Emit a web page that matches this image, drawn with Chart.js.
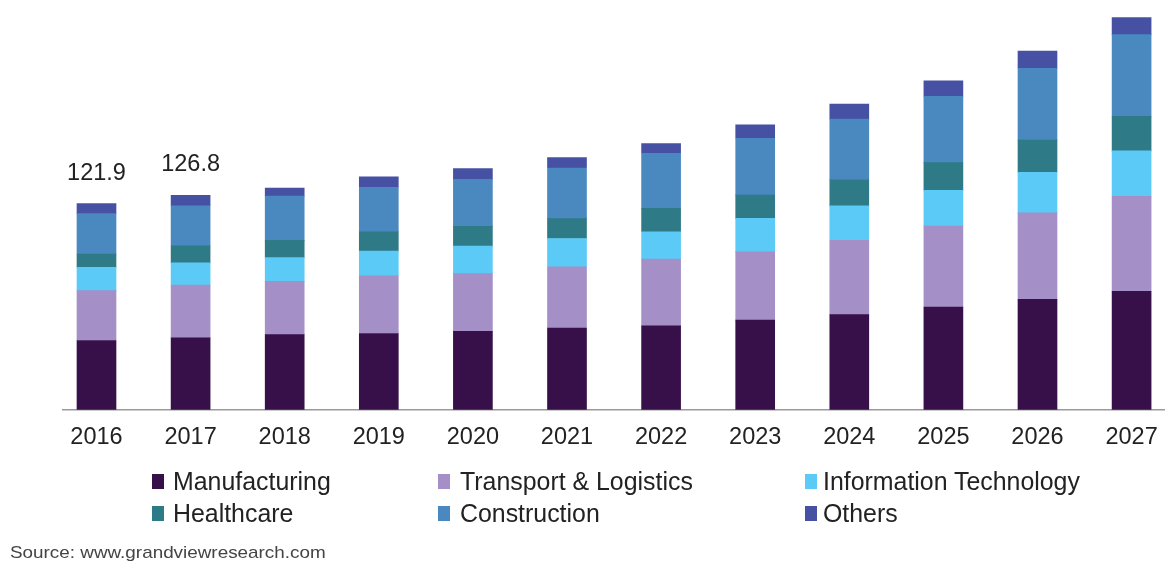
<!DOCTYPE html>
<html>
<head>
<meta charset="utf-8">
<script src="https://cdn.jsdelivr.net/npm/chart.js@4.4.1/dist/chart.umd.min.js"></script>
<style>
  html, body { margin: 0; padding: 0; background: #ffffff; overflow: hidden; }
  #wrap { position: relative; width: 1165px; height: 562px; }
  #c { position: absolute; left: 0; top: 0; }
  .lg { position: absolute; font-family: "Liberation Sans", Arial, sans-serif; font-size: 24.9px; color: #222; line-height: 28px; white-space: nowrap; }
  .sq { position: absolute; width: 12px; height: 15px; }
  #src { position: absolute; left: 10px; top: 543px; font-family: "Liberation Sans", Arial, sans-serif; font-size: 17px; color: #444; transform: scaleX(1.11); transform-origin: left top; white-space: nowrap; }
</style>
</head>
<body>
<div id="wrap">
  <canvas id="c" width="1165" height="562"></canvas>
  <div id="legend"></div>
  <div id="src">Source: www.grandviewresearch.com</div>
</div>
<script>
const years = ['2016','2017','2018','2019','2020','2021','2022','2023','2024','2025','2026','2027'];
const manufacturing = [41.0, 42.5, 44.5, 45.1, 46.4, 48.4, 49.6, 53.0, 56.3, 60.8, 65.4, 70.1];
const transport     = [29.5, 31.2, 31.5, 34.1, 34.1, 36.1, 39.5, 40.4, 44.0, 47.9, 51.1, 56.2];
const infoTech      = [13.7, 13.2, 14.0, 14.6, 16.3, 16.8, 16.2, 19.8, 20.3, 21.1, 23.9, 26.8];
const healthcare    = [7.9, 10.1, 10.2, 11.4, 11.7, 11.8, 13.8, 13.8, 15.6, 16.4, 19.1, 20.5];
const construction  = [23.9, 23.7, 26.2, 26.3, 27.8, 29.9, 32.5, 33.6, 35.7, 39.2, 42.4, 48.3];
const others        = [5.9, 6.1, 4.7, 6.3, 6.3, 6.2, 5.9, 7.9, 8.9, 9.1, 10.2, 10.1];
const totalLabels   = ['121.9', '126.8'];

const seriesNames  = ['Manufacturing','Transport & Logistics','Information Technology','Healthcare','Construction','Others'];
const seriesValues = [manufacturing, transport, infoTech, healthcare, construction, others];
const seriesColors = ['#37104a', '#a48fc6', '#5bcaf6', '#2f7a87', '#4a89bf', '#4651a3'];

const FONT = '"Liberation Sans", Arial, sans-serif';

const datasets = seriesNames.map((name, k) => ({
  label: name,
  data: seriesValues[k].map((v, i) => ({ x: i, y: v })),
  backgroundColor: seriesColors[k],
  borderWidth: 0,
  barThickness: 39,
  stack: 's'
}));

const totalsPlugin = {
  id: 'totals',
  afterDatasetsDraw(chart) {
    const ctx = chart.ctx;
    const xs = chart.scales.x, ys = chart.scales.y;
    ctx.save();
    ctx.font = '23.5px ' + FONT;
    ctx.fillStyle = '#222';
    ctx.textAlign = 'center';
    ctx.textBaseline = 'alphabetic';
    totalLabels.forEach((lab, i) => {
      let sum = 0;
      seriesValues.forEach(arr => sum += arr[i]);
      const x = xs.getPixelForValue(i);
      const y = ys.getPixelForValue(sum) - 24;
      ctx.fillText(lab, x, y);
    });
    ctx.restore();
  }
};

new Chart(document.getElementById('c'), {
  type: 'bar',
  data: { datasets },
  options: {
    responsive: false,
    animation: false,
    layout: { padding: { left: 63, right: 0, top: 4, bottom: 110 } },
    plugins: { legend: { display: false }, tooltip: { enabled: false } },
    scales: {
      x: {
        type: 'linear',
        stacked: true,
        min: -0.356,
        max: 11.355,
        offset: false,
        grid: { display: false, drawTicks: true, tickLength: 14 },
        border: { display: true, color: '#9a9a9a', width: 1.6 },
        afterBuildTicks: axis => { axis.ticks = years.map((y, i) => ({ value: i })); },
        ticks: {
          stepSize: 1,
          autoSkip: false,
          maxRotation: 0,
          padding: 0,
          color: '#222',
          font: { family: FONT, size: 23.5 },
          callback: v => (Number.isInteger(v) && years[v]) ? years[v] : ''
        }
      },
      y: {
        stacked: true,
        display: false,
        min: 0,
        max: 240
      }
    }
  },
  plugins: [totalsPlugin]
});

// legend (3 columns x 2 rows) built from the series
const legend = document.getElementById('legend');
const colSq = [152, 438, 805];
const colTx = [173, 460, 823];
const rowY = [481, 513];
seriesNames.forEach((name, k) => {
  const col = k % 3, row = Math.floor(k / 3);
  const sq = document.createElement('div');
  sq.className = 'sq';
  sq.style.left = colSq[col] + 'px';
  sq.style.top = (rowY[row] - 7) + 'px';
  sq.style.background = seriesColors[k];
  legend.appendChild(sq);
  const tx = document.createElement('div');
  tx.className = 'lg';
  tx.style.left = colTx[col] + 'px';
  tx.style.top = (rowY[row] - 14) + 'px';
  tx.textContent = name;
  legend.appendChild(tx);
});
</script>
</body>
</html>
